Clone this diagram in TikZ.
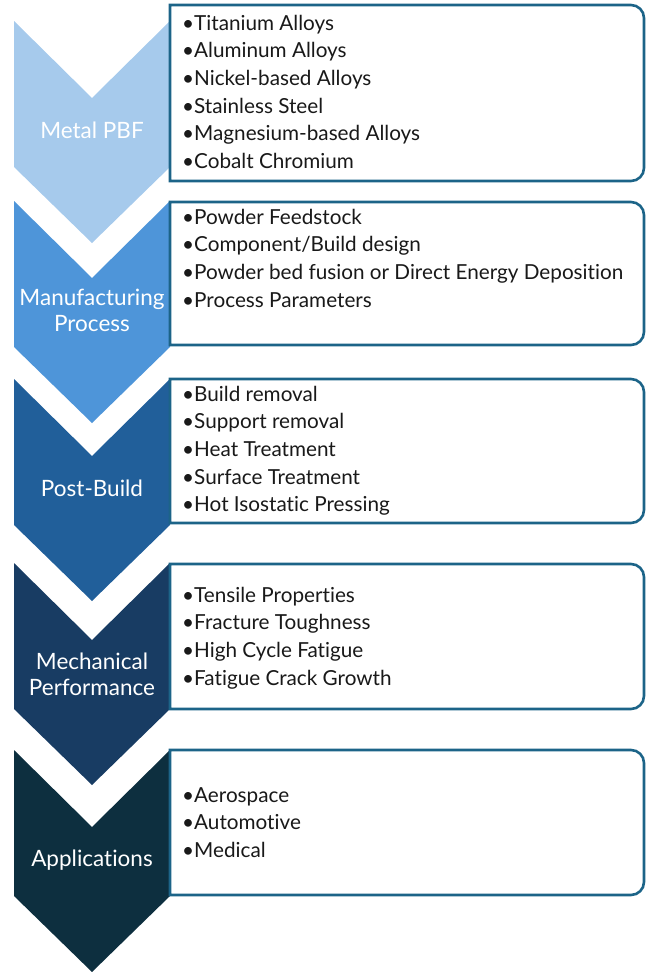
\documentclass[tikz,border=0pt]{standalone}
\usepackage{fontspec}
\setmainfont{Lato}[Ligatures={NoCommon,NoRare}]
\begin{document}
\definecolor{stepA}{HTML}{A6CAEC}
\definecolor{stepB}{HTML}{4E95D9}
\definecolor{stepC}{HTML}{215F9A}
\definecolor{stepD}{HTML}{183C63}
\definecolor{stepE}{HTML}{0D2F3F}
\definecolor{frame}{HTML}{1C6488}
\begin{tikzpicture}[x=1pt,y=-1pt,
  chevron/.style={fill=#1,draw=none},
  listbox/.style={draw=frame,line width=2.6pt,fill=white},
  steplabel/.style={text=white,font=\fontsize{22.5}{26.5}\selectfont,align=center,inner sep=0pt},
  itemline/.style={font=\fontsize{20.7}{24}\selectfont,anchor=base west,inner sep=0pt,text=black!90}]
\useasboundingbox (0,0) rectangle (646,972);

% chevron arrows down the left side: top y, fill colour
\foreach \top/\col [count=\k] in {21/stepA,201/stepB,379/stepC,563/stepD,750/stepE}{
  \fill[chevron=\col] (14,\top) -- (92,\top+77) -- (170,\top) -- (170,\top+146)
     -- (92,\top+222) -- (14,\top+146) -- cycle;
}

% list boxes: square on the left, rounded on the right
\foreach \ya/\yb in {5/181,202/345,379/523,564/709,750/895}{
  \draw[listbox] (170,\ya) -- (400,\ya) [rounded corners=13pt] -- (644,\ya) -- (644,\yb)
     -- (400,\yb) [sharp corners] -- (170,\yb) -- cycle;
}

% step labels
\node[steplabel] (s1) at (92,130) {Metal PBF};
\node[steplabel] (s2) at (92,310.5) {Manufacturing\\Process};
\node[steplabel] (s3) at (92,488) {Post-Build};
\node[steplabel] (s4) at (92,674.5) {Mechanical\\Performance};
\node[steplabel] (s5) at (92,860) {Applications};

% list entries
\foreach \t [count=\i] in {Titanium Alloys,Aluminum Alloys,Nickel-based Alloys,Stainless Steel,Magnesium-based Alloys,Cobalt Chromium}
  \node[itemline] (a\i) at (182,30+27.7*\i-27.7) {•\t};
\foreach \t [count=\i] in {Powder Feedstock,Component/Build design,Powder bed fusion or Direct Energy Deposition,Process Parameters}
  \node[itemline] (b\i) at (182,224+27.7*\i-27.7) {•\t};
\foreach \t [count=\i] in {Build removal,Support removal,Heat Treatment,Surface Treatment,Hot Isostatic Pressing}
  \node[itemline] (c\i) at (182,401+27.7*\i-27.7) {•\t};
\foreach \t [count=\i] in {Tensile Properties,Fracture Toughness,High Cycle Fatigue,Fatigue Crack Growth}
  \node[itemline] (d\i) at (182,602+27.7*\i-27.7) {•\t};
\foreach \t [count=\i] in {Aerospace,Automotive,Medical}
  \node[itemline] (e\i) at (182,802+27.7*\i-27.7) {•\t};
\end{tikzpicture}
\end{document}
